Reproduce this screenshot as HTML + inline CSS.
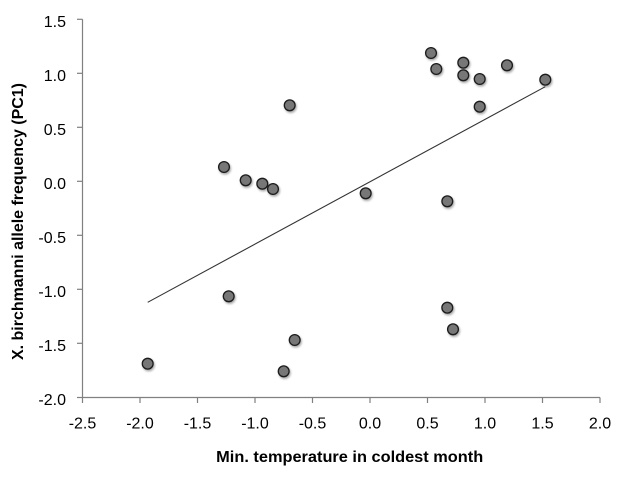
<!DOCTYPE html>
<html>
<head>
<meta charset="utf-8">
<style>
  html,body{margin:0;padding:0;background:#fff;}
  svg{display:block;}
  text{font-family:"Liberation Sans",sans-serif;fill:#000;}
</style>
</head>
<body>
<svg width="628" height="483" viewBox="0 0 628 483" xmlns="http://www.w3.org/2000/svg">
  <defs>
    <filter id="sh" x="-50%" y="-50%" width="200%" height="200%">
      <feDropShadow dx="1" dy="1.6" stdDeviation="1" flood-color="#000" flood-opacity="0.35"/>
    </filter>
  </defs>
  <rect width="628" height="483" fill="#fff"/>

  <!-- axes -->
  <g stroke="#808080" stroke-width="1.2" fill="none">
    <line x1="82.5" y1="19.3" x2="82.5" y2="397.5"/>
    <line x1="82.5" y1="397.5" x2="600" y2="397.5"/>
    <!-- y ticks -->
    <line x1="77" y1="19.3" x2="82.5" y2="19.3"/>
    <line x1="77" y1="73.3" x2="82.5" y2="73.3"/>
    <line x1="77" y1="127.3" x2="82.5" y2="127.3"/>
    <line x1="77" y1="181.3" x2="82.5" y2="181.3"/>
    <line x1="77" y1="235.3" x2="82.5" y2="235.3"/>
    <line x1="77" y1="289.3" x2="82.5" y2="289.3"/>
    <line x1="77" y1="343.3" x2="82.5" y2="343.3"/>
    <line x1="77" y1="397.5" x2="82.5" y2="397.5"/>
    <!-- x ticks -->
    <line x1="82.5" y1="397.5" x2="82.5" y2="403"/>
    <line x1="140" y1="397.5" x2="140" y2="403"/>
    <line x1="197.5" y1="397.5" x2="197.5" y2="403"/>
    <line x1="255" y1="397.5" x2="255" y2="403"/>
    <line x1="312.5" y1="397.5" x2="312.5" y2="403"/>
    <line x1="370" y1="397.5" x2="370" y2="403"/>
    <line x1="427.5" y1="397.5" x2="427.5" y2="403"/>
    <line x1="485" y1="397.5" x2="485" y2="403"/>
    <line x1="542.5" y1="397.5" x2="542.5" y2="403"/>
    <line x1="600" y1="397.5" x2="600" y2="403"/>
  </g>

  <!-- y tick labels -->
  <g font-size="16" text-anchor="end">
    <text x="66" y="27">1.5</text>
    <text x="66" y="81">1.0</text>
    <text x="66" y="135">0.5</text>
    <text x="66" y="189">0.0</text>
    <text x="66" y="243">-0.5</text>
    <text x="66" y="297">-1.0</text>
    <text x="66" y="351">-1.5</text>
    <text x="66" y="405">-2.0</text>
  </g>

  <!-- x tick labels -->
  <g font-size="16" text-anchor="middle">
    <text x="82.5" y="428.5">-2.5</text>
    <text x="140" y="428.5">-2.0</text>
    <text x="197.5" y="428.5">-1.5</text>
    <text x="255" y="428.5">-1.0</text>
    <text x="312.5" y="428.5">-0.5</text>
    <text x="370" y="428.5">0.0</text>
    <text x="427.5" y="428.5">0.5</text>
    <text x="485" y="428.5">1.0</text>
    <text x="542.5" y="428.5">1.5</text>
    <text x="600" y="428.5">2.0</text>
  </g>

  <!-- axis titles -->
  <text x="349.7" y="462" font-size="16" font-weight="bold" text-anchor="middle" textLength="267" lengthAdjust="spacingAndGlyphs">Min. temperature in coldest month</text>
  <text transform="translate(23,221.5) rotate(-90)" x="0" y="0" font-size="16" font-weight="bold" text-anchor="middle" textLength="277" lengthAdjust="spacingAndGlyphs">X. birchmanni allele frequency (PC1)</text>

  <!-- trend line -->
  <line x1="147.7" y1="302.3" x2="545.3" y2="86.7" stroke="#333" stroke-width="1.1"/>

  <!-- points -->
  <g fill="#777" stroke="#1a1a1a" stroke-width="1.3" filter="url(#sh)">
    <circle cx="289.7" cy="105.3" r="5.4"/>
    <circle cx="224" cy="167" r="5.4"/>
    <circle cx="245.7" cy="180.3" r="5.4"/>
    <circle cx="262.3" cy="183.7" r="5.4"/>
    <circle cx="273" cy="189" r="5.4"/>
    <circle cx="431" cy="53" r="5.4"/>
    <circle cx="436.3" cy="69" r="5.4"/>
    <circle cx="463.3" cy="62.7" r="5.4"/>
    <circle cx="463.3" cy="75.3" r="5.4"/>
    <circle cx="479.7" cy="79" r="5.4"/>
    <circle cx="507" cy="65.3" r="5.4"/>
    <circle cx="545.3" cy="79.7" r="5.4"/>
    <circle cx="479.7" cy="106.7" r="5.4"/>
    <circle cx="365.7" cy="193.3" r="5.4"/>
    <circle cx="447.3" cy="201.3" r="5.4"/>
    <circle cx="228.7" cy="296.3" r="5.4"/>
    <circle cx="147.7" cy="363.7" r="5.4"/>
    <circle cx="294.7" cy="340" r="5.4"/>
    <circle cx="283.7" cy="371.3" r="5.4"/>
    <circle cx="447.3" cy="307.7" r="5.4"/>
    <circle cx="453" cy="329.3" r="5.4"/>
  </g>
</svg>
</body>
</html>
